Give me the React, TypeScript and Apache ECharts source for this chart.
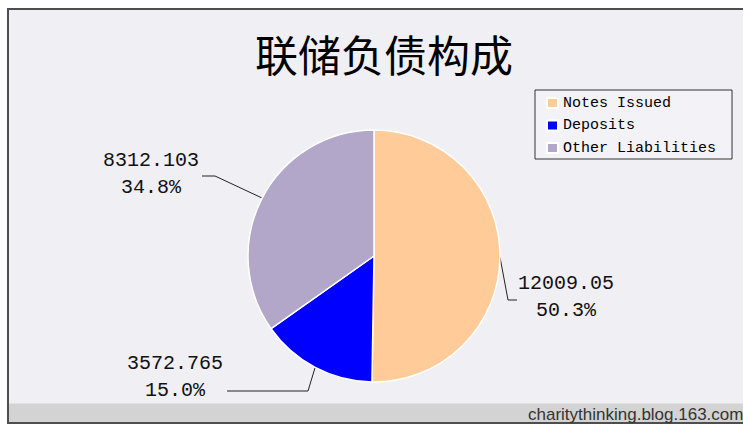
import React, { useEffect, useRef } from "react";
import * as echarts from "echarts";

// ---- data ----
const TITLE = "联储负债构成";
const categories = ["Notes Issued", "Deposits", "Other Liabilities"];
const values = [12009.05, 3572.765, 8312.103];
const colors = ["#ffcc99", "#0000ff", "#b2a7c9"];
const WATERMARK = "charitythinking.blog.163.com";

// ---- label layout (positions of the labels and their leader-line bends) ----
const LABEL_LAYOUT = [
  { x: 566, y: 297, elbow: [508, 300], end: [517, 300] },
  { x: 175, y: 377, elbow: [308, 391], end: [227, 391] },
  { x: 151, y: 174, elbow: [215, 176], end: [202, 176] },
];

export default function App() {
  const ref = useRef<HTMLDivElement>(null);

  useEffect(() => {
    if (!ref.current) return;
    const chart = echarts.init(ref.current, undefined, { renderer: "svg" });
    const total = values.reduce((a, b) => a + b, 0);

    chart.setOption({
      animation: false,
      backgroundColor: "#ffffff",
      graphic: [
        {
          type: "rect",
          z: -10,
          silent: true,
          shape: { x: 8, y: 9, width: 780, height: 414 },
          style: { fill: "#f0eff3", stroke: "#4e4e4e", lineWidth: 2 },
        },
        {
          type: "rect",
          z: -9,
          silent: true,
          shape: { x: 9, y: 403.5, width: 760, height: 18.5 },
          style: { fill: "#d3d3d3" },
        },
        {
          type: "text",
          z: -8,
          silent: true,
          x: 528,
          y: 414,
          style: {
            text: WATERMARK,
            fill: "#333333",
            font: "17px 'Liberation Sans', Arial, sans-serif",
            verticalAlign: "middle",
            align: "left",
          },
        },
      ],
      title: {
        text: TITLE,
        left: 250,
        top: 26,
        textStyle: {
          fontFamily: "'Noto Sans CJK SC'",
          fontSize: 43,
          fontWeight: "normal",
          color: "#000",
        },
      },
      legend: {
        data: categories,
        orient: "vertical",
        left: 535,
        top: 90,
        padding: [5, 16, 3, 11],
        itemGap: 6.5,
        itemWidth: 11,
        itemHeight: 10,
        icon: "rect",
        borderColor: "#333",
        borderWidth: 1,
        backgroundColor: "#f3f2f6",
        textStyle: {
          fontFamily: "'Liberation Mono', monospace",
          fontSize: 15,
          lineHeight: 16,
          color: "#000",
        },
      },
      series: [
        {
          type: "pie",
          center: [374, 256],
          radius: 126,
          startAngle: 90,
          clockwise: true,
          data: categories.map((name, i) => ({
            name,
            value: values[i],
            itemStyle: { color: colors[i] },
          })),
          itemStyle: { borderColor: "#ffffff", borderWidth: 1.5 },
          label: {
            show: true,
            position: "outside",
            formatter: (p: any) =>
              `${p.value}\n${((p.value / total) * 100).toFixed(1)}%`,
            fontFamily: "'Liberation Mono', monospace",
            fontSize: 20,
            lineHeight: 27,
            color: "#111",
            align: "center",
          },
          labelLine: {
            show: true,
            length: 15,
            length2: 10,
            lineStyle: { color: "#222", width: 1 },
          },
          labelLayout: (params: any) => {
            const L = LABEL_LAYOUT[params.dataIndex];
            const pts = params.labelLinePoints;
            const res: any = {
              x: L.x,
              y: L.y,
              align: "center",
              verticalAlign: "middle",
            };
            if (pts && pts[0]) {
              res.labelLinePoints = [pts[0], L.elbow, L.end];
            }
            return res;
          },
        },
      ],
    });

    return () => chart.dispose();
  }, []);

  return (
    <div
      ref={ref}
      style={{ position: "absolute", left: 0, top: 0, width: 743, height: 426 }}
    />
  );
}
